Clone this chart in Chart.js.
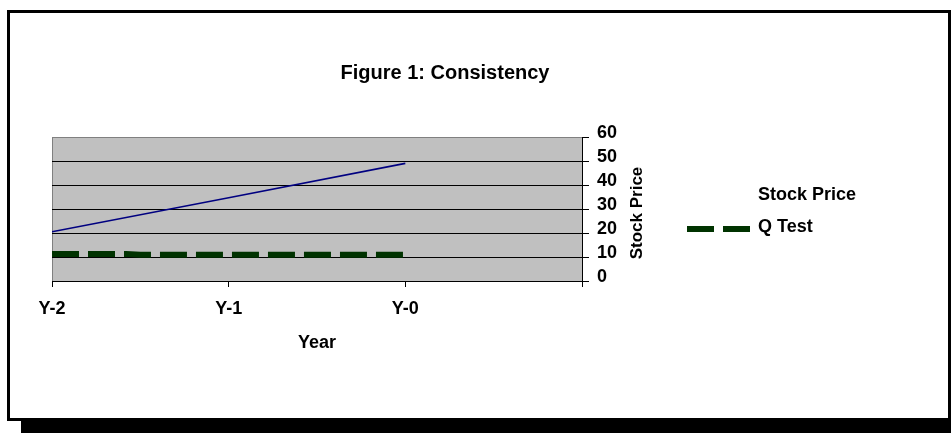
<!DOCTYPE html>
<html>
<head>
<meta charset="utf-8">
<title>Figure 1: Consistency</title>
<script src="https://cdn.jsdelivr.net/npm/chart.js@4.4.1/dist/chart.umd.min.js"></script>
<style>
    html, body { margin: 0; padding: 0; background: #fff; }
    body { width: 951px; height: 433px; position: relative; overflow: hidden; }
    #frame {
        position: absolute; left: 7px; top: 10px;
        width: 938px; height: 405px;
        border: 3px solid #000;
        box-shadow: 14px 14px 0 #000;
        background: #fff;
    }
    #chartBox { position: absolute; left: 0; top: 0; width: 951px; height: 433px; }
</style>
</head>
<body>
<div id="frame"></div>
<div id="chartBox"><canvas id="chart" width="951" height="433"></canvas></div>
<script>
// data
const xLabels = ['Y-2', 'Y-1', 'Y-0', ''];
const stockX = [0, 1, 2];
const stockPrice = [20.5, 34.7, 49];
const qTestX = [0, 0.42, 0.5, 2];
const qTest = [11.3, 11.3, 10.9, 10.9];
const yTicks = [0, 10, 20, 30, 40, 50, 60];

const FONT = "'Liberation Sans', Arial, sans-serif";
Chart.defaults.color = '#000';
Chart.defaults.font.family = FONT;

const toPoints = (xs, ys) => xs.map((x, i) => ({ x: x, y: ys[i] }));

// plot background, title, rotated axis title and the legend
const decor = {
    id: 'decor',
    beforeDraw(chart) {
        const { ctx, chartArea: a } = chart;
        ctx.save();
        ctx.fillStyle = '#c0c0c0';
        ctx.fillRect(a.left, a.top, a.right - a.left, a.bottom - a.top);
        ctx.strokeStyle = '#808080';
        ctx.lineWidth = 1;
        ctx.strokeRect(Math.round(a.left) + 0.5, Math.round(a.top) + 0.5,
            Math.round(a.right - a.left), Math.round(a.bottom - a.top));
        ctx.restore();
    },
    afterDraw(chart) {
        const { ctx } = chart;
        ctx.save();
        ctx.fillStyle = '#000';
        ctx.textBaseline = 'middle';

        ctx.font = 'bold 20px ' + FONT;
        ctx.textAlign = 'center';
        ctx.fillText('Figure 1: Consistency', 445, 73);

        // y axis title, reads bottom to top
        ctx.save();
        ctx.translate(637, 213);
        ctx.rotate(-Math.PI / 2);
        ctx.font = 'bold 17px ' + FONT;
        ctx.fillText('Stock Price', 0, 0);
        ctx.restore();

        // legend
        ctx.font = 'bold 18px ' + FONT;
        ctx.textAlign = 'left';
        ctx.fillText(chart.data.datasets[0].label, 758, 195);
        ctx.fillText(chart.data.datasets[1].label, 758, 227);

        const q = chart.data.datasets[1];
        ctx.strokeStyle = q.borderColor;
        ctx.lineWidth = q.borderWidth;
        ctx.lineCap = 'butt';
        ctx.setLineDash(q.borderDash);
        ctx.beginPath();
        ctx.moveTo(687, 229);
        ctx.lineTo(750, 229);
        ctx.stroke();
        ctx.restore();
    }
};

new Chart(document.getElementById('chart'), {
    type: 'line',
    data: {
        datasets: [
            {
                label: 'Stock Price',
                data: toPoints(stockX, stockPrice),
                borderColor: '#000080',
                borderWidth: 1.6,
                pointRadius: 0,
                tension: 0
            },
            {
                label: 'Q Test',
                data: toPoints(qTestX, qTest),
                borderColor: '#003300',
                borderWidth: 6,
                borderDash: [27, 9],
                borderCapStyle: 'butt',
                pointRadius: 0,
                tension: 0
            }
        ]
    },
    options: {
        responsive: false,
        animation: false,
        events: [],
        layout: { padding: { left: 52, top: 137, right: 329, bottom: 79 } },
        scales: {
            x: {
                type: 'linear',
                position: 'bottom',
                min: 0,
                max: xLabels.length - 1,
                afterFit: (s) => { s.height = 73; },
                afterBuildTicks: (s) => { s.ticks = xLabels.map((_, i) => ({ value: i })); },
                ticks: {
                    autoSkip: false,
                    maxRotation: 0,
                    padding: 11,
                    font: { size: 18, weight: 'bold' },
                    callback: (v) => xLabels[v]
                },
                grid: { drawOnChartArea: false, drawTicks: true, tickLength: 6, color: '#000' },
                border: { display: true, color: '#000', width: 1 },
                title: { display: true, text: 'Year', padding: 0, font: { size: 18, weight: 'bold' } }
            },
            y: {
                type: 'linear',
                position: 'right',
                min: yTicks[0],
                max: yTicks[yTicks.length - 1],
                afterFit: (s) => { s.width = 40; },
                afterBuildTicks: (s) => { s.ticks = yTicks.map((v) => ({ value: v })); },
                ticks: {
                    autoSkip: false,
                    padding: 8,
                    labelOffset: -4,
                    font: { size: 18, weight: 'bold' }
                },
                grid: {
                    drawOnChartArea: true,
                    drawTicks: true,
                    tickLength: 7,
                    color: (c) => (c.tick && c.tick.value === yTicks[yTicks.length - 1] ? '#808080' : '#000'),
                    tickColor: '#000'
                },
                border: { display: true, color: '#000', width: 1 }
            }
        },
        plugins: {
            legend: { display: false },
            title: { display: false },
            tooltip: { enabled: false }
        }
    },
    plugins: [decor]
});
</script>
</body>
</html>
